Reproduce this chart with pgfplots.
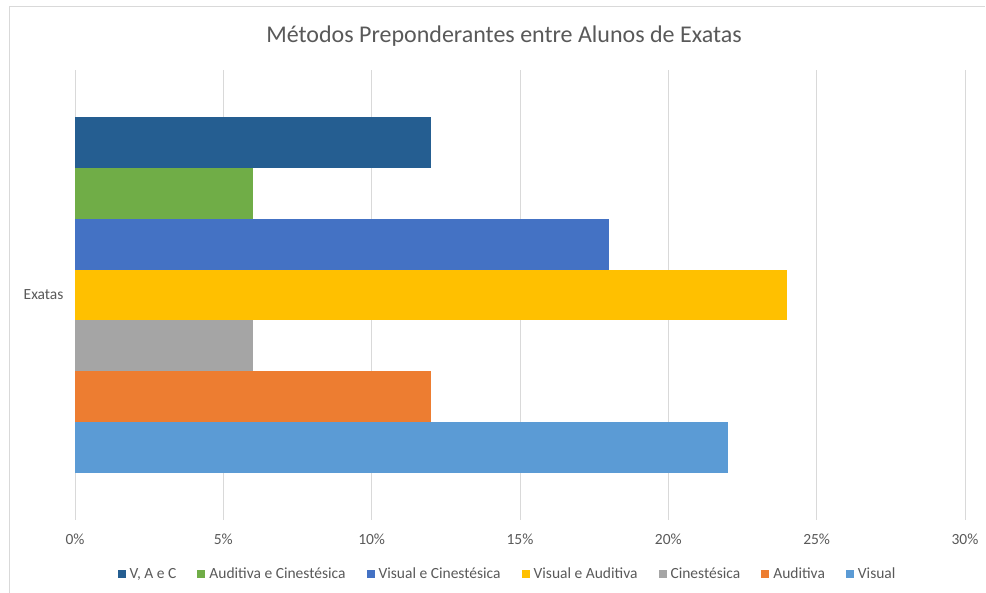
\documentclass[border=0pt]{standalone}
\usepackage{pgfplots}
\pgfplotsset{compat=1.18}
\usepackage{fontspec}
\setmainfont{Carlito}
\definecolor{txt}{HTML}{595959}
\definecolor{gridc}{HTML}{D9D9D9}
\definecolor{cVAC}{HTML}{255E91}
\definecolor{cAeC}{HTML}{70AD47}
\definecolor{cVeC}{HTML}{4472C4}
\definecolor{cVeA}{HTML}{FFC000}
\definecolor{cCin}{HTML}{A5A5A5}
\definecolor{cAud}{HTML}{ED7D31}
\definecolor{cVis}{HTML}{5B9BD5}
\begin{document}
\begin{tikzpicture}
\useasboundingbox (0,0) rectangle (986pt,593pt);
\draw[gridc, line width=1pt] (9pt,0pt) -- (9pt,586pt) -- (985pt,586pt);
\node[txt, font=\fontsize{24}{28}\selectfont] at (504pt,557pt) {Métodos Preponderantes entre Alunos de Exatas};
\begin{axis}[
  at={(75pt,73pt)}, anchor=south west,
  scale only axis, width=890pt, height=450pt,
  xmin=0, xmax=30, ymin=-4.435, ymax=4.435,
  xtick={0,5,10,15,20,25,30},
  xticklabel={\pgfmathprintnumber{\tick}\%},
  ytick={0}, yticklabels={Exatas},
  /pgf/number format/assume math mode=true,
  xmajorgrids, major grid style={gridc, line width=1pt},
  axis line style={draw=none},
  major tick length=0pt,
  tick label style={txt, font=\fontsize{15.5}{18}\selectfont},
  xticklabel style={yshift=-10pt},
  yticklabel style={xshift=-8pt},
  legend style={at={(0.486,-0.12)}, anchor=center, draw=none, fill=none,
    legend columns=-1, font=\fontsize{15.5}{18}\selectfont, text=txt,
    /tikz/every odd column/.append style={column sep=2pt},
    /tikz/every even column/.append style={column sep=19pt}},
  legend image code/.code={\fill[#1] (0pt,-4pt) rectangle (8pt,4pt);},
  clip=false,
]
\addplot[xbar, fill=cVAC, draw=none, bar width=1, bar shift=0pt] coordinates {(12,3)};
\addlegendentry{V, A e C}
\addplot[xbar, fill=cAeC, draw=none, bar width=1, bar shift=0pt] coordinates {(6,2)};
\addlegendentry{Auditiva e Cinestésica}
\addplot[xbar, fill=cVeC, draw=none, bar width=1, bar shift=0pt] coordinates {(18,1)};
\addlegendentry{Visual e Cinestésica}
\addplot[xbar, fill=cVeA, draw=none, bar width=1, bar shift=0pt] coordinates {(24,0)};
\addlegendentry{Visual e Auditiva}
\addplot[xbar, fill=cCin, draw=none, bar width=1, bar shift=0pt] coordinates {(6,-1)};
\addlegendentry{Cinestésica}
\addplot[xbar, fill=cAud, draw=none, bar width=1, bar shift=0pt] coordinates {(12,-2)};
\addlegendentry{Auditiva}
\addplot[xbar, fill=cVis, draw=none, bar width=1, bar shift=0pt] coordinates {(22,-3)};
\addlegendentry{Visual}
\end{axis}
\end{tikzpicture}
\end{document}
